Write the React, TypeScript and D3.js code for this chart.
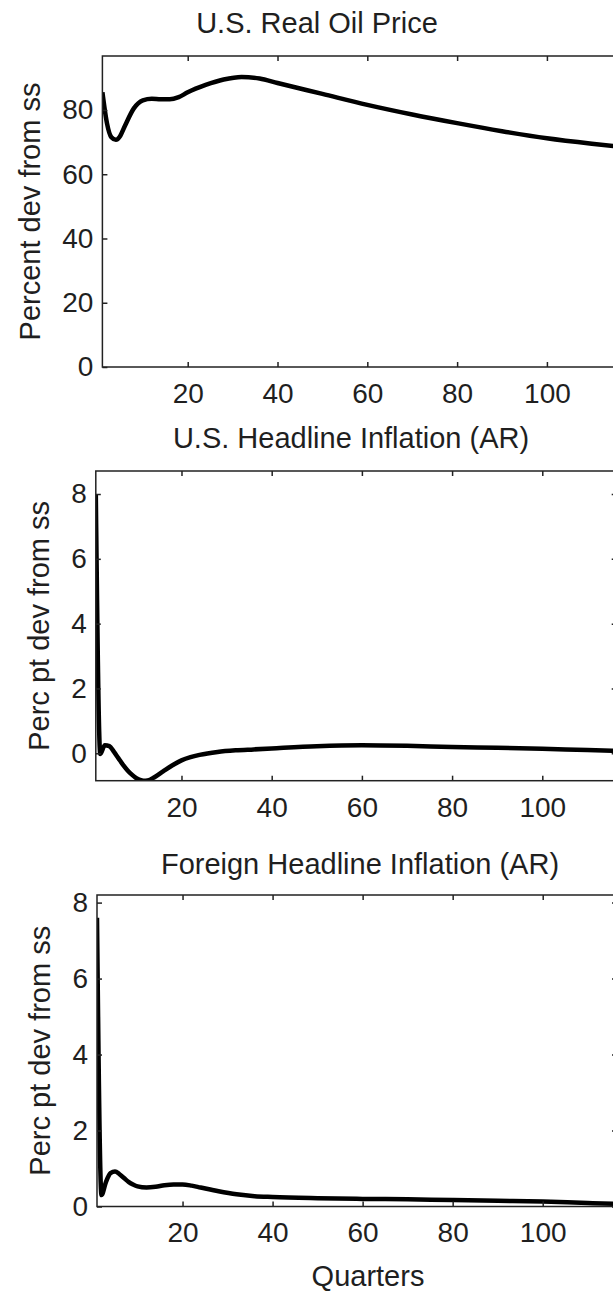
import { useEffect, useRef } from 'react';
import * as d3 from 'd3';

// quarters and responses
const oilQuarters = [1, 2, 3, 4, 5, 6, 8, 10, 12, 14, 16, 18, 20, 24, 28, 32, 36, 40, 50, 60, 70, 80, 90, 100, 110, 116];
const oilValues = [85.5, 76, 71.5, 70.7, 72, 75, 80.5, 83, 83.5, 83.3, 83.3, 84, 85.5, 87.8, 89.5, 90.3, 89.8, 88.4, 85, 81.6, 78.6, 75.9, 73.4, 71.2, 69.5, 68.6];

const usQuarters = [1, 2, 3, 4, 5, 6, 7, 8, 9, 10, 11, 12, 13, 14, 16, 18, 20, 22, 24, 28, 32, 36, 40, 50, 60, 70, 80, 90, 100, 110, 116];
const usValues = [8.0, -0.02, 0.25, 0.22, 0.05, -0.15, -0.35, -0.52, -0.66, -0.77, -0.83, -0.85, -0.82, -0.74, -0.55, -0.37, -0.22, -0.12, -0.05, 0.04, 0.09, 0.12, 0.15, 0.22, 0.25, 0.23, 0.19, 0.17, 0.14, 0.1, 0.08];

const foreignQuarters = [1, 2, 3, 4, 5, 6, 7, 8, 9, 10, 12, 14, 16, 18, 20, 22, 24, 28, 32, 36, 40, 50, 60, 70, 80, 90, 100, 110, 116];
const foreignValues = [7.6, 0.3, 0.65, 0.88, 0.92, 0.85, 0.75, 0.65, 0.58, 0.53, 0.5, 0.52, 0.56, 0.58, 0.58, 0.55, 0.5, 0.4, 0.32, 0.27, 0.25, 0.22, 0.2, 0.19, 0.17, 0.15, 0.13, 0.09, 0.07];

const xTicks = [20, 40, 60, 80, 100];
const oilTicks = [0, 20, 40, 60, 80];
const inflTicks = [0, 2, 4, 6, 8];

const FONT = '"Liberation Sans", Arial, Helvetica, sans-serif';
const INK = '#1f1f1f';

const panels = [
  {
    title: 'U.S. Real Oil Price', titleX: 317, titleY: 33,
    ylabel: 'Percent dev from ss', ylabelX: 40,
    box: { left: 102.4, right: 621, top: 56, bottom: 367 },
    yDomain: [0, 96.8], yTicks: oilTicks,
    qs: oilQuarters, vals: oilValues,
  },
  {
    title: 'U.S. Headline Inflation (AR)', titleX: 351, titleY: 448,
    ylabel: 'Perc pt dev from ss', ylabelX: 49,
    box: { left: 95.8, right: 616.7, top: 471, bottom: 780.7 },
    yDomain: [-0.846, 8.71], yTicks: inflTicks,
    qs: usQuarters, vals: usValues,
  },
  {
    title: 'Foreign Headline Inflation (AR)', titleX: 360, titleY: 874,
    ylabel: 'Perc pt dev from ss', ylabelX: 50,
    box: { left: 97, right: 617, top: 895, bottom: 1206.5 },
    yDomain: [0, 8.2], yTicks: inflTicks,
    qs: foreignQuarters, vals: foreignValues,
  },
];

const App = () => {
  const svgRef = useRef<SVGSVGElement>(null);

  useEffect(() => {
    const svg = d3.select(svgRef.current);
    svg.selectAll('*').remove();

    panels.forEach((p, i) => {
      const { left, right, top, bottom } = p.box;
      const x = d3.scaleLinear().domain([1, 116.5]).range([left, right]);
      const y = d3.scaleLinear().domain(p.yDomain).range([bottom, top]);

      const g = svg.append('g');

      // clip so the thick line stays in the box
      g.append('clipPath')
        .attr('id', `clip${i}`)
        .append('rect')
        .attr('x', left)
        .attr('y', top)
        .attr('width', right - left)
        .attr('height', bottom - top);

      const line = d3
        .line<number>()
        .x((_, j) => x(p.qs[j]))
        .y(d => y(d))
        .curve(d3.curveMonotoneX);

      g.append('path')
        .datum(p.vals)
        .attr('clip-path', `url(#clip${i})`)
        .attr('fill', 'none')
        .attr('stroke', '#000')
        .attr('stroke-width', 4.5)
        .attr('stroke-linejoin', 'round')
        .attr('d', line);

      // axes, ticks pointing inward
      const bottomAxis = g.append('g')
        .attr('transform', `translate(0,${bottom})`)
        .call(d3.axisBottom(x).tickValues(xTicks).tickSizeInner(-5).tickSizeOuter(0).tickPadding(16));
      g.append('g')
        .attr('transform', `translate(0,${top})`)
        .call(d3.axisTop(x).tickValues(xTicks).tickSizeInner(-5).tickSizeOuter(0).tickFormat(() => ''));
      const leftAxis = g.append('g')
        .attr('transform', `translate(${left},0)`)
        .call(d3.axisLeft(y).tickValues(p.yTicks).tickSizeInner(-5).tickSizeOuter(0).tickPadding(9));
      g.append('g')
        .attr('transform', `translate(${right},0)`)
        .call(d3.axisRight(y).tickValues(p.yTicks).tickSizeInner(-5).tickSizeOuter(0).tickFormat(() => ''));

      g.selectAll('.domain').remove();
      g.selectAll('.tick line').attr('stroke', '#222').attr('stroke-width', 1.5);
      [bottomAxis, leftAxis].forEach(a =>
        a.selectAll('text')
          .style('font-family', FONT)
          .style('font-size', '28px')
          .attr('fill', INK)
      );

      g.append('rect')
        .attr('x', left)
        .attr('y', top)
        .attr('width', right - left)
        .attr('height', bottom - top)
        .attr('fill', 'none')
        .attr('stroke', '#222')
        .attr('stroke-width', 1.5);

      g.append('text')
        .attr('x', p.titleX)
        .attr('y', p.titleY)
        .attr('text-anchor', 'middle')
        .style('font-family', FONT)
        .style('font-size', '29px')
        .attr('fill', INK)
        .text(p.title);

      const cy = (top + bottom) / 2;
      g.append('text')
        .attr('transform', `translate(${p.ylabelX},${cy}) rotate(-90)`)
        .attr('text-anchor', 'middle')
        .style('font-family', FONT)
        .style('font-size', '29px')
        .attr('fill', INK)
        .text(p.ylabel);
    });

    svg.append('text')
      .attr('x', 368)
      .attr('y', 1286)
      .attr('text-anchor', 'middle')
      .style('font-family', FONT)
      .style('font-size', '29px')
      .attr('fill', INK)
      .text('Quarters');
  }, []);

  return (
    <svg
      ref={svgRef}
      width={613}
      height={1291}
      style={{ position: 'absolute', left: 0, top: 0, background: '#fff' }}
    />
  );
};

export default App;
